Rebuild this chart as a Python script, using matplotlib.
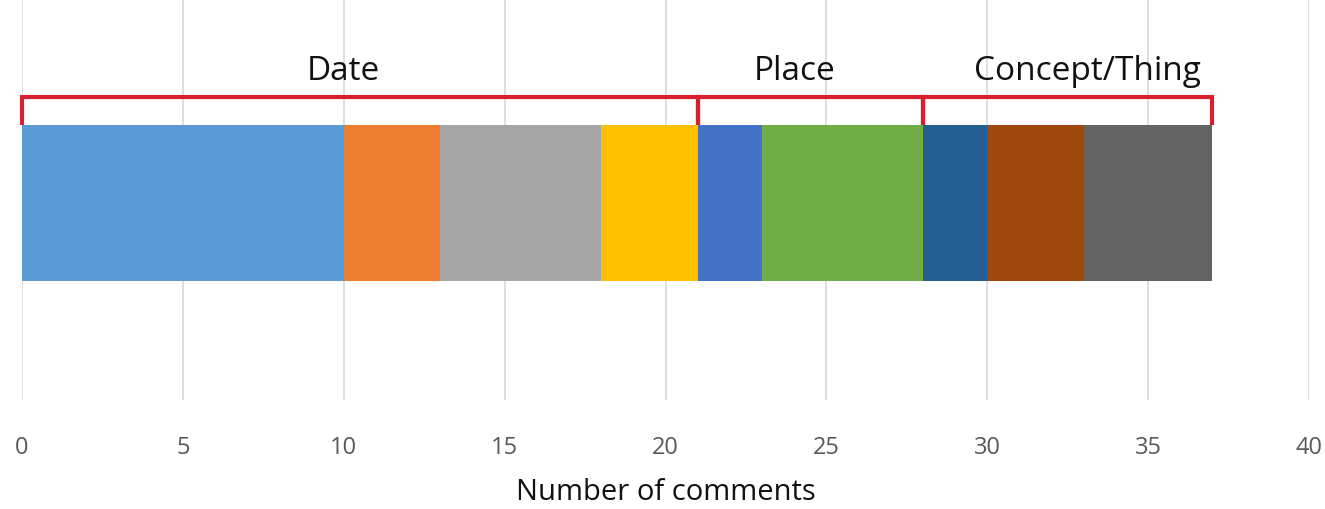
import matplotlib
matplotlib.use('Agg')
import matplotlib.pyplot as plt

# segment lengths of the stacked bar (number of comments)
values = [10, 3, 5, 3, 2, 5, 2, 3, 4]
colors = ["#5B9BD5", "#ED7D31", "#A5A5A5", "#FFC000", "#4472C4",
          "#70AD47", "#255E91", "#9E480E", "#636363"]

# groups spanned by the red brackets (start, end)
groups = ["Date", "Place", "Concept/Thing"]
group_spans = [(0, 21), (21, 28), (28, 37)]

xticks = [0, 5, 10, 15, 20, 25, 30, 35, 40]

plt.rcParams['font.family'] = ['Open Sans', 'DejaVu Sans']

fig = plt.figure(figsize=(13.25, 5.09), dpi=100)
ax = fig.add_axes([22 / 1325, 1 - 400 / 509, 1287 / 1325, 400 / 509])

left = 0
for v, c in zip(values, colors):
    ax.barh(0.4925, v, left=left, height=0.3875, color=c, linewidth=0)
    left += v

# label offsets from bracket centre (labels sit a bit off-centre in the original)
label_shift = [-0.5, -0.5, 0.6]
bracket_y = 0.7575
for name, (s, e), dx in zip(groups, group_spans, label_shift):
    ax.plot([s, s, e, e], [0.6875, bracket_y, bracket_y, 0.6875],
            color="#D9202E", linewidth=3, solid_joinstyle="miter",
            solid_capstyle="butt", clip_on=False, zorder=3)
    ax.text((s + e) / 2 + dx, 0.78, name, ha="center", va="bottom",
            fontsize=24, color="#111111")

ax.set_xlim(0, 40)
ax.set_ylim(0, 1)
ax.set_xticks(xticks)
ax.set_yticks([])
ax.tick_params(axis="x", length=0, pad=26, labelsize=17, labelcolor="#595959")
ax.xaxis.grid(True, color="#D9D9D9", linewidth=1.2)
ax.set_axisbelow(True)
for sp in ax.spines.values():
    sp.set_visible(False)
ax.set_xlabel("Number of comments", fontsize=21, color="#111111", labelpad=13)

fig.savefig("out.png", dpi=100)
